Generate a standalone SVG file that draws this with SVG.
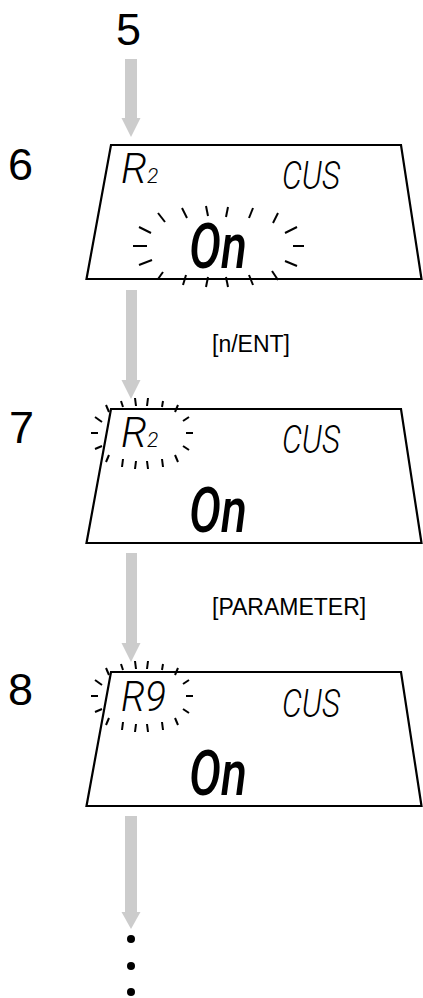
<svg xmlns="http://www.w3.org/2000/svg" width="423" height="998" viewBox="0 0 423 998">
<style>
.step{font-family:"Liberation Sans",Arial,sans-serif;font-size:45px;fill:#000}
.lbl{font-family:"Liberation Sans",Arial,sans-serif;font-size:23px;fill:#000}
.lcd{font-family:Roboto,"DejaVu Sans",sans-serif;font-style:italic;font-weight:300;fill:#000}
.big{font-family:Roboto,"DejaVu Sans",sans-serif;font-style:italic;font-weight:500;fill:#000}
.panel{fill:#fff;stroke:#000;stroke-width:2.2;stroke-linejoin:miter}
.ray{stroke:#000;stroke-width:2;stroke-linecap:butt;fill:none}
.arr{fill:#cccccc}
</style>
<defs>
<g id="rays" class="ray">
<line x1="-36" y1="-28" x2="-33" y2="-21"/>
<line x1="-21" y1="-32" x2="-19" y2="-26"/>
<line x1="-7" y1="-35" x2="-6" y2="-27"/>
<line x1="6" y1="-35" x2="5" y2="-27"/>
<line x1="21" y1="-32" x2="20" y2="-26"/>
<line x1="36" y1="-28" x2="33" y2="-21"/>
<line x1="-47" y1="-16" x2="-40" y2="-11"/>
<line x1="-51" y1="0" x2="-44" y2="0"/>
<line x1="-47" y1="16" x2="-40" y2="13"/>
<line x1="41" y1="-12" x2="47" y2="-16"/>
<line x1="44" y1="0" x2="51" y2="0"/>
<line x1="41" y1="13" x2="47" y2="17"/>
<line x1="-36" y1="29" x2="-33" y2="22"/>
<line x1="-20" y1="34" x2="-19" y2="26"/>
<line x1="-7" y1="36" x2="-6" y2="28"/>
<line x1="6" y1="36" x2="5" y2="28"/>
<line x1="21" y1="34" x2="20" y2="26"/>
<line x1="36" y1="29" x2="33" y2="22"/>
</g>
</defs>

<g id="connectors">
<rect class="arr" x="125" y="59" width="12" height="60"/>
<polygon class="arr" points="121.5,118 140.5,118 131,137"/>
<rect class="arr" x="126" y="290" width="11" height="91"/>
<polygon class="arr" points="121.5,380 140.5,380 131,399"/>
<rect class="arr" x="126" y="553" width="11" height="91"/>
<polygon class="arr" points="121.5,643 140.5,643 131,662"/>
<rect class="arr" x="125" y="816" width="12" height="97"/>
<polygon class="arr" points="121.5,912 140.5,912 131,929"/>
</g>

<g id="step5"><text class="step" x="116" y="45">5</text></g>
<g id="step6"><text class="step" x="8" y="180">6</text></g>
<g id="step7"><text class="step" x="9" y="443">7</text></g>
<g id="step8"><text class="step" x="8" y="705">8</text></g>

<g id="label-nent"><text class="lbl" x="212" y="352">[n/ENT]</text></g>
<g id="label-parameter"><text class="lbl" x="212" y="615">[PARAMETER]</text></g>

<g id="display6">
<polygon class="panel" points="111,145 401,145 421.5,279 86.5,279"/>
<text class="lcd" x="121" y="183" font-size="42">R<tspan font-size="21">2</tspan></text>
<text class="lcd" x="282" y="189" font-size="38" textLength="58" lengthAdjust="spacingAndGlyphs">CUS</text>
<text class="big" x="189" y="268" font-size="62" textLength="58" lengthAdjust="spacingAndGlyphs">On</text>
<g class="ray">
<line x1="158" y1="213" x2="165" y2="222"/>
<line x1="182" y1="208" x2="187" y2="218"/>
<line x1="206" y1="206" x2="208" y2="216"/>
<line x1="228" y1="207" x2="226" y2="217"/>
<line x1="253" y1="208" x2="249" y2="218"/>
<line x1="278" y1="213" x2="273" y2="223"/>
<line x1="139" y1="227" x2="151" y2="233"/>
<line x1="133" y1="246" x2="147" y2="246"/>
<line x1="139" y1="265" x2="152" y2="260"/>
<line x1="285" y1="233" x2="297" y2="227"/>
<line x1="293" y1="246" x2="304" y2="246"/>
<line x1="285" y1="261" x2="297" y2="266"/>
<line x1="158" y1="279" x2="163" y2="272"/>
<line x1="183" y1="285" x2="186" y2="275"/>
<line x1="206" y1="287" x2="208" y2="277"/>
<line x1="228" y1="287" x2="226" y2="277"/>
<line x1="253" y1="285" x2="249" y2="275"/>
<line x1="278" y1="280" x2="272" y2="271"/>
</g>
</g>

<g id="display7">
<polygon class="panel" points="111,409 401,409 421.5,543 86.5,543"/>
<use href="#rays" transform="translate(142,433)"/>
<text class="lcd" x="121" y="447" font-size="42">R<tspan font-size="21">2</tspan></text>
<text class="lcd" x="282" y="453" font-size="38" textLength="58" lengthAdjust="spacingAndGlyphs">CUS</text>
<text class="big" x="189" y="532" font-size="62" textLength="58" lengthAdjust="spacingAndGlyphs">On</text>
</g>

<g id="display8">
<polygon class="panel" points="111,672 401,672 421.5,806 86.5,806"/>
<use href="#rays" transform="translate(142,696)"/>
<text class="lcd" x="121" y="711" font-size="42" textLength="45" lengthAdjust="spacingAndGlyphs">R9</text>
<text class="lcd" x="282" y="717" font-size="38" textLength="58" lengthAdjust="spacingAndGlyphs">CUS</text>
<text class="big" x="189" y="795" font-size="62" textLength="58" lengthAdjust="spacingAndGlyphs">On</text>
</g>

<g id="continuation">
<circle cx="131" cy="939" r="4"/>
<circle cx="131" cy="966" r="4"/>
<circle cx="131" cy="992" r="4"/>
</g>
</svg>
